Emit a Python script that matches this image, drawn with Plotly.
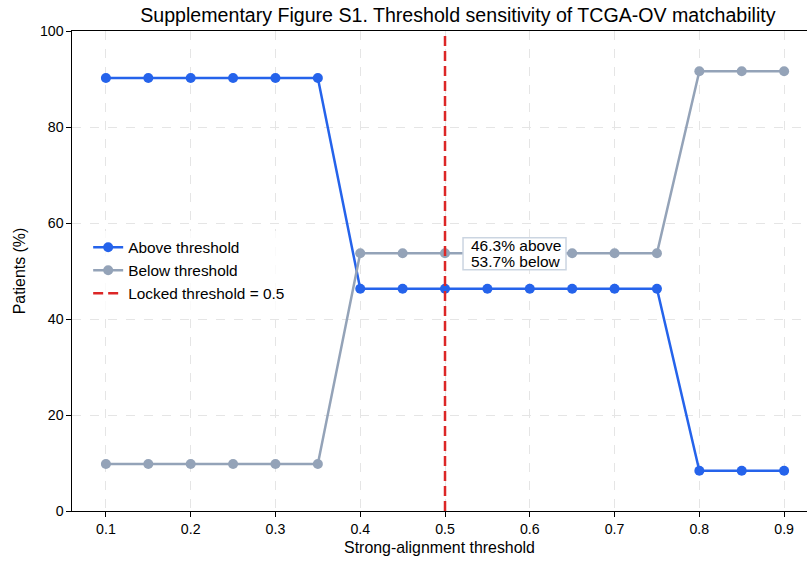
import plotly.graph_objects as go

thresholds = [0.1, 0.15, 0.2, 0.25, 0.3, 0.35, 0.4, 0.45, 0.5, 0.55, 0.6, 0.65, 0.7, 0.75, 0.8, 0.85, 0.9]
above_pct = [90.2, 90.2, 90.2, 90.2, 90.2, 90.2, 46.3, 46.3, 46.3, 46.3, 46.3, 46.3, 46.3, 46.3, 8.4, 8.4, 8.4]
below_pct = [9.8, 9.8, 9.8, 9.8, 9.8, 9.8, 53.7, 53.7, 53.7, 53.7, 53.7, 53.7, 53.7, 53.7, 91.6, 91.6, 91.6]
locked_threshold = 0.5
x_ticks = [0.1, 0.2, 0.3, 0.4, 0.5, 0.6, 0.7, 0.8, 0.9]
y_ticks = [0, 20, 40, 60, 80, 100]

BLUE = "#2563eb"
GRAY = "#94a3b8"
RED = "#dc2626"
FONT = "Liberation Sans, Arial, sans-serif"

fig = go.Figure()
fig.add_trace(go.Scatter(x=thresholds, y=above_pct, mode="lines+markers", name="Above threshold",
                         line=dict(color=BLUE, width=2.5), marker=dict(color=BLUE, size=10)))
fig.add_trace(go.Scatter(x=thresholds, y=below_pct, mode="lines+markers", name="Below threshold",
                         line=dict(color=GRAY, width=2.5), marker=dict(color=GRAY, size=10)))
fig.add_trace(go.Scatter(x=[locked_threshold, locked_threshold], y=[0, 100], mode="lines",
                         name=f"Locked threshold = {locked_threshold}",
                         line=dict(color=RED, width=2.5, dash="10px,5px")))

# annotation box (pixel-sized, anchored at data point)
ann_x = 0.5295
ann_y = 53.6
fig.add_shape(type="rect", xref="x", yref="y", xsizemode="pixel", ysizemode="pixel",
              xanchor=ann_x, yanchor=ann_y, x0=-7, x1=96, y0=-16, y1=16,
              line=dict(color="#cbd5e1", width=1.5), fillcolor="white", layer="above")
fig.add_annotation(x=ann_x, y=ann_y, xref="x", yref="y", xanchor="left", yanchor="bottom",
                   yshift=-1, text=f"{above_pct[8]}% above", showarrow=False,
                   font=dict(family=FONT, size=15.5, color="black"), borderpad=0)
fig.add_annotation(x=ann_x, y=ann_y, xref="x", yref="y", xanchor="left", yanchor="top",
                   yshift=2, text=f"{below_pct[8]}% below", showarrow=False,
                   font=dict(family=FONT, size=15.5, color="black"), borderpad=0)

fig.update_layout(
    width=807, height=561,
    margin=dict(l=72, r=0, t=31, b=50),
    paper_bgcolor="white", plot_bgcolor="white",
    font=dict(family=FONT, size=14.2, color="black"),
    title=dict(text="Supplementary Figure S1. Threshold sensitivity of TCGA-OV matchability",
               xref="paper", x=0.525, xanchor="center", y=0.973, yanchor="middle", font=dict(size=19.6)),
    showlegend=True,
    legend=dict(x=0.022, y=0.584, xanchor="left", yanchor="top", bgcolor="rgba(255,255,255,0.8)",
                font=dict(size=15.4), tracegroupgap=0, itemwidth=30),
)
fig.update_xaxes(range=[0.06, 0.927], tickvals=x_ticks, ticktext=[str(v) for v in x_ticks],
                 title=dict(text="Strong-alignment threshold", standoff=6, font=dict(size=15.9)),
                 showline=True, linecolor="black", linewidth=1.2, mirror=True,
                 ticks="outside", ticklen=4.5, tickcolor="black",
                 showgrid=True, gridcolor="#e5e5e5", griddash="dash", gridwidth=0.8, zeroline=False)
fig.update_yaxes(range=[0, 100], tickvals=y_ticks,
                 title=dict(text="Patients (%)", standoff=10, font=dict(size=15.9)),
                 showline=True, linecolor="black", linewidth=1.2, mirror=True,
                 ticks="outside", ticklen=4.5, tickcolor="black",
                 showgrid=True, gridcolor="#e5e5e5", griddash="dash", gridwidth=0.8, zeroline=False)

fig.write_html("out.html")
